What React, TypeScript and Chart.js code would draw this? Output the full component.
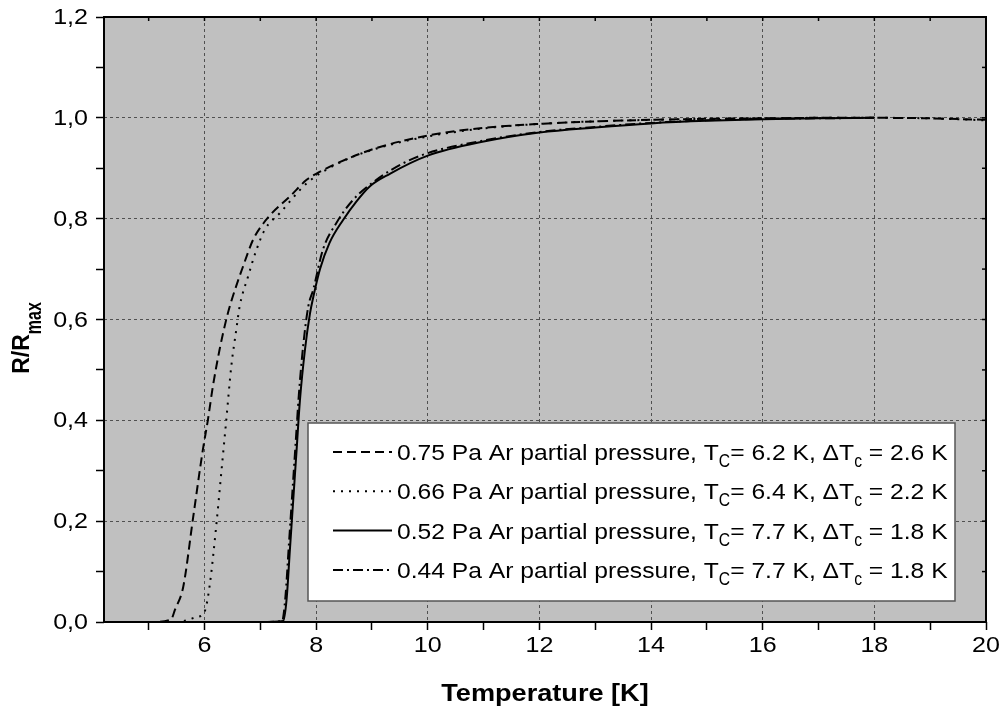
import React, { useEffect, useRef } from 'react';
import { Chart, registerables } from 'chart.js';
Chart.register(...registerables);

// ---- data ----
const T_075 = [4.2, 5.0, 5.4, 5.47, 5.62, 5.79, 5.97, 6.06, 6.15, 6.27, 6.39, 6.48, 6.69, 6.87, 7.05, 7.2, 7.53, 7.83, 8.0, 8.42, 9.05, 10.0, 11.0, 12.0, 13.0, 14.0, 15.0, 16.0, 17.0, 18.0, 19.0, 20.0];
const R_075 = [0, 0, 0.005, 0.024, 0.07, 0.202, 0.341, 0.4, 0.467, 0.54, 0.6, 0.636, 0.705, 0.758, 0.79, 0.81, 0.844, 0.877, 0.889, 0.912, 0.939, 0.965, 0.98, 0.988, 0.993, 0.996, 0.998, 0.999, 1.0, 1.0, 0.999, 0.996];

const T_066 = [4.2, 5.5, 5.86, 6.0, 6.09, 6.21, 6.3, 6.39, 6.48, 6.57, 6.63, 6.78, 6.93, 7.08, 7.35, 7.83, 8.4, 9.05, 10.0, 11.0, 12.0, 13.0, 14.0, 15.0, 16.0, 17.0, 18.0, 19.0, 20.0];
const R_066 = [0, 0, 0.01, 0.02, 0.07, 0.19, 0.295, 0.4, 0.507, 0.58, 0.626, 0.685, 0.738, 0.778, 0.811, 0.87, 0.91, 0.938, 0.963, 0.979, 0.988, 0.993, 0.996, 0.998, 0.999, 1.0, 1.0, 0.999, 0.995];

const T_052 = [4.2, 7.0, 7.41, 7.47, 7.53, 7.59, 7.65, 7.71, 7.8, 7.89, 7.95, 8.07, 8.24, 8.48, 8.72, 8.96, 9.32, 10.0, 11.0, 12.0, 13.0, 14.0, 15.0, 16.0, 17.0, 18.0];
const R_052 = [0, 0, 0.002, 0.044, 0.143, 0.242, 0.341, 0.44, 0.54, 0.612, 0.645, 0.7, 0.752, 0.797, 0.834, 0.864, 0.889, 0.925, 0.953, 0.971, 0.981, 0.989, 0.994, 0.997, 0.999, 1.0];

const T_044 = [4.2, 7.0, 7.39, 7.45, 7.51, 7.57, 7.63, 7.69, 7.77, 7.86, 7.95, 8.12, 8.36, 8.66, 9.08, 9.56, 10.0, 11.0, 12.0, 13.0, 14.0, 15.0, 16.0, 17.0, 18.0];
const R_044 = [0, 0, 0.002, 0.05, 0.15, 0.25, 0.35, 0.45, 0.55, 0.626, 0.66, 0.738, 0.791, 0.837, 0.877, 0.91, 0.93, 0.955, 0.972, 0.982, 0.99, 0.995, 0.998, 0.999, 1.0];

const PRESSURES = ['0.75', '0.66', '0.52', '0.44'];
const TC_VALUES = ['6.2', '6.4', '7.7', '7.7'];
const DTC_VALUES = ['2.6', '2.2', '1.8', '1.8'];

const X_MIN = 4.2;
const X_MAX = 20;
const Y_MIN = 0;
const Y_MAX = 1.2;
const X_TITLE = 'Temperature [K]';
const Y_TITLE_MAIN = 'R/R';
const Y_TITLE_SUB = 'max';

// ---- styles ----
const FAMILY = '"Liberation Sans", Arial, Helvetica, sans-serif';
const DASHES = [[9, 5], [2, 6], [], [10, 4, 2, 4]];
const PLOT_BG = '#c0c0c0';
const GRID_COLOR = '#505050';
const TEXT_STRETCH = 1.14;
const TICK_FONT = 22;

const LEG = { left: 308, top: 423, right: 955, bottom: 601, lineX0: 333, lineX1: 392, textX: 397, rowY0: 452, rowDY: 39.3, size: 22, subSize: 14 };

type Part = { t: string; sub?: boolean };

function drawRich(ctx: CanvasRenderingContext2D, x: number, y: number, parts: Part[], size: number, subSize: number, bold: boolean, subOff: number, subScale: number) {
  const w = bold ? 'bold ' : '';
  for (const p of parts) {
    if (p.sub) {
      ctx.font = `${w}${subSize}px ${FAMILY}`;
      const mw = ctx.measureText(p.t).width;
      ctx.save();
      ctx.translate(x, y + subOff);
      ctx.scale(1, subScale);
      ctx.fillText(p.t, 0, 0);
      ctx.restore();
      x += mw;
    } else {
      ctx.font = `${w}${size}px ${FAMILY}`;
      ctx.fillText(p.t, x, y);
      x += ctx.measureText(p.t).width;
    }
  }
  return x;
}

function richWidth(ctx: CanvasRenderingContext2D, parts: Part[], size: number, subSize: number, bold: boolean) {
  const w = bold ? 'bold ' : '';
  let total = 0;
  for (const p of parts) {
    ctx.font = `${w}${p.sub ? subSize : size}px ${FAMILY}`;
    total += ctx.measureText(p.t).width;
  }
  return total;
}

const isMajorY = (v: number) => Math.round(v * 10) % 2 === 0;
const isMajorX = (v: number) => Math.round(v) % 2 === 0 && Math.abs(v - Math.round(v)) < 1e-6;
const fmtX = (v: number) => String(Math.round(v));
const fmtY = (v: number) => v.toFixed(1).replace('.', ',');

const framePlugin = {
  id: 'framePlugin',
  beforeDraw(chart: any) {
    const { ctx, chartArea: a } = chart;
    ctx.save();
    ctx.fillStyle = '#ffffff';
    ctx.fillRect(0, 0, chart.width, chart.height);
    ctx.fillStyle = PLOT_BG;
    ctx.fillRect(a.left, a.top, a.right - a.left, a.bottom - a.top);
    ctx.restore();
  },
  afterDraw(chart: any) {
    const { ctx, chartArea: a } = chart;
    const xs = chart.scales.x;
    const ys = chart.scales.y;
    ctx.save();
    // inner ticks on top and right
    ctx.strokeStyle = '#000';
    ctx.lineWidth = 1.5;
    ctx.setLineDash([]);
    for (const t of xs.ticks) {
      const px = xs.getPixelForValue(t.value);
      ctx.beginPath();
      ctx.moveTo(px, a.top);
      ctx.lineTo(px, a.top + 4);
      ctx.stroke();
    }
    for (const t of ys.ticks) {
      const py = ys.getPixelForValue(t.value);
      ctx.beginPath();
      ctx.moveTo(a.right, py);
      ctx.lineTo(a.right - 4, py);
      ctx.stroke();
    }
    // frame
    ctx.lineWidth = 2;
    ctx.strokeRect(a.left, a.top, a.right - a.left, a.bottom - a.top);

    // tick labels (from the scales' own ticks)
    ctx.fillStyle = '#000';
    ctx.font = `${TICK_FONT}px ${FAMILY}`;
    ctx.textBaseline = 'middle';
    for (const t of xs.ticks) {
      if (!isMajorX(t.value)) continue;
      const px = xs.getPixelForValue(t.value);
      ctx.save();
      ctx.translate(px, 646);
      ctx.scale(TEXT_STRETCH, 1);
      ctx.textAlign = 'center';
      ctx.fillText(fmtX(t.value), 0, 0);
      ctx.restore();
    }
    for (const t of ys.ticks) {
      if (!isMajorY(t.value)) continue;
      const py = ys.getPixelForValue(t.value);
      ctx.save();
      ctx.translate(88, py + 1);
      ctx.scale(TEXT_STRETCH, 1);
      ctx.textAlign = 'right';
      ctx.fillText(fmtY(t.value), 0, 0);
      ctx.restore();
    }

    // legend box
    ctx.fillStyle = '#ffffff';
    ctx.fillRect(LEG.left, LEG.top, LEG.right - LEG.left, LEG.bottom - LEG.top);
    ctx.strokeStyle = '#555555';
    ctx.lineWidth = 1.5;
    ctx.strokeRect(LEG.left, LEG.top, LEG.right - LEG.left, LEG.bottom - LEG.top);
    chart.data.datasets.forEach((ds: any, i: number) => {
      const y = LEG.rowY0 + i * LEG.rowDY;
      ctx.strokeStyle = '#000';
      ctx.lineWidth = 2;
      ctx.setLineDash(ds.borderDash || []);
      ctx.beginPath();
      ctx.moveTo(LEG.lineX0, y);
      ctx.lineTo(LEG.lineX1, y);
      ctx.stroke();
      ctx.setLineDash([]);
      ctx.fillStyle = '#000';
      ctx.textBaseline = 'alphabetic';
      ctx.textAlign = 'left';
      const parts: Part[] = [
        { t: `${PRESSURES[i]} Pa Ar partial pressure, T` },
        { t: 'C', sub: true },
        { t: `= ${TC_VALUES[i]} K, \u0394T` },
        { t: 'c', sub: true },
        { t: ` = ${DTC_VALUES[i]} K` },
      ];
      ctx.save();
      ctx.translate(LEG.textX, y + 8);
      ctx.scale(1.12, 1);
      drawRich(ctx, 0, 0, parts, LEG.size, LEG.subSize, false, 7, 1.35);
      ctx.restore();
    });

    // axis titles
    ctx.fillStyle = '#000';
    ctx.textAlign = 'center';
    ctx.textBaseline = 'alphabetic';
    ctx.font = `bold 24px ${FAMILY}`;
    ctx.save();
    ctx.translate((a.left + a.right) / 2, 701);
    ctx.scale(1.13, 1);
    ctx.fillText(X_TITLE, 0, 0);
    ctx.restore();

    const yParts: Part[] = [{ t: Y_TITLE_MAIN }, { t: Y_TITLE_SUB, sub: true }];
    ctx.textAlign = 'left';
    const tw = richWidth(ctx, yParts, 23, 16, true);
    ctx.translate(28.5, 338);
    ctx.rotate(-Math.PI / 2);
    drawRich(ctx, -tw / 2, 0, yParts, 23, 16, true, 12, 1.4);
    ctx.restore();
  },
};

export default function App() {
  const ref = useRef<HTMLCanvasElement>(null);
  useEffect(() => {
    const pts = (xs: number[], ys: number[]) => xs.map((x, i) => ({ x, y: ys[i] }));
    const series = [pts(T_075, R_075), pts(T_066, R_066), pts(T_052, R_052), pts(T_044, R_044)];
    const chart = new Chart(ref.current as HTMLCanvasElement, {
      type: 'line',
      data: {
        datasets: series.map((d, i) => ({
          label: `${PRESSURES[i]} Pa`,
          data: d,
          borderColor: '#000',
          backgroundColor: '#000',
          borderWidth: 2,
          borderDash: DASHES[i],
          pointRadius: 0,
          fill: false,
          cubicInterpolationMode: 'monotone' as const,
        })),
      },
      options: {
        responsive: false,
        animation: false,
        layout: { padding: { top: 17, right: 17, left: 0, bottom: 0 } },
        plugins: { legend: { display: false }, tooltip: { enabled: false } },
        scales: {
          x: {
            type: 'linear',
            min: X_MIN,
            max: X_MAX,
            afterFit: (s: any) => { s.height = 89; },
            ticks: {
              display: false,
              stepSize: 1,
              includeBounds: false,
              autoSkip: false,
              maxRotation: 0,
              callback: (v: any) => (isMajorX(Number(v)) ? fmtX(Number(v)) : ''),
            },
            grid: {
              color: (c: any) => (c.tick && isMajorX(c.tick.value) ? GRID_COLOR : 'rgba(0,0,0,0)'),
              lineWidth: 1,
              tickLength: 8,
              tickColor: '#000',
              tickWidth: 1.5,
              tickBorderDash: [],
              borderDash: [3, 3],
            } as any,
            border: { display: false, dash: [3, 3] },
          },
          y: {
            type: 'linear',
            min: Y_MIN,
            max: Y_MAX,
            afterFit: (s: any) => { s.width = 104; },
            ticks: {
              display: false,
              stepSize: 0.1,
              autoSkip: false,
              callback: (v: any) => (isMajorY(Number(v)) ? fmtY(Number(v)) : ''),
            },
            grid: {
              color: (c: any) => (c.tick && isMajorY(c.tick.value) ? GRID_COLOR : 'rgba(0,0,0,0)'),
              lineWidth: 1,
              tickLength: 8,
              tickColor: '#000',
              tickWidth: 1.5,
              tickBorderDash: [],
              borderDash: [3, 3],
            } as any,
            border: { display: false, dash: [3, 3] },
          },
        },
      } as any,
      plugins: [framePlugin],
    });
    return () => chart.destroy();
  }, []);
  return (
    <div style={{ position: 'absolute', left: 0, top: 0, width: 1003, height: 711, background: '#fff' }}>
      <canvas ref={ref} width={1003} height={711} style={{ display: 'block', width: 1003, height: 711 }} />
    </div>
  );
}
